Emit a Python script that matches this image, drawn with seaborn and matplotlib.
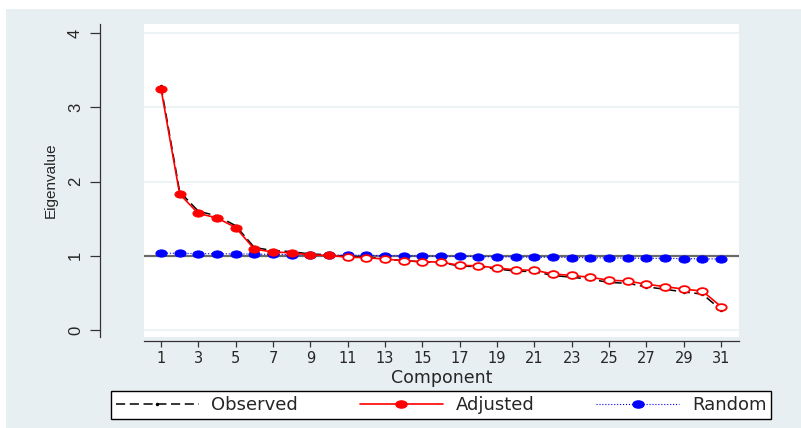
import matplotlib
matplotlib.use('Agg')
import numpy as np
import pandas as pd
import matplotlib.pyplot as plt
from matplotlib.path import Path
from matplotlib.transforms import Affine2D
from matplotlib.lines import Line2D
from matplotlib.patches import Rectangle
import seaborn as sns

# 数据
component = list(range(1, 32))
observed = [3.285, 1.863, 1.600, 1.537, 1.405, 1.112, 1.069, 1.056, 1.023, 1.015,
            0.988, 0.980, 0.957, 0.934, 0.917, 0.909, 0.861, 0.854, 0.821, 0.794,
            0.786, 0.734, 0.711, 0.684, 0.641, 0.629, 0.581, 0.549, 0.512, 0.484, 0.272]
adjusted = [3.25, 1.83, 1.57, 1.51, 1.38, 1.09, 1.05, 1.04, 1.01, 1.005,
            0.98, 0.975, 0.955, 0.935, 0.92, 0.915, 0.87, 0.865, 0.835, 0.81,
            0.805, 0.755, 0.735, 0.71, 0.67, 0.66, 0.615, 0.585, 0.55, 0.525, 0.315]
random_ev = [1.035, 1.033, 1.030, 1.027, 1.025, 1.022, 1.019, 1.016, 1.013, 1.010,
             1.008, 1.005, 1.002, 0.999, 0.997, 0.994, 0.991, 0.989, 0.986, 0.984,
             0.981, 0.979, 0.976, 0.974, 0.971, 0.969, 0.966, 0.964, 0.962, 0.959, 0.957]
xticks = list(range(1, 32, 2))
yticks = [0, 1, 2, 3, 4]
labels = ['Observed', 'Adjusted', 'Random']

df = pd.DataFrame({'component': component, 'observed': observed,
                   'adjusted': adjusted, 'random': random_ev})
kept = df[df['adjusted'] > 1]
dropped = df[df['adjusted'] <= 1]

sns.set_style('white')
plt.rcParams['font.family'] = ['DejaVu Sans']

BG = '#e8eff2'
W, H = 801, 428

fig = plt.figure(figsize=(W / 100, H / 100), dpi=100, facecolor='white')
# 外面的灰蓝色背景（左边和上边留白）
fig.add_artist(Rectangle((6 / W, 0), 1 - 6 / W, 1 - 9 / H, transform=fig.transFigure,
                         facecolor=BG, edgecolor='none', zorder=-10))

ax = fig.add_axes([144 / W, 1 - 337 / H, 595 / W, 313 / H])
ax.set_facecolor('white')

# 椭圆点（原图被横向拉伸）
circ = Path.unit_circle()
ell = Path(Affine2D().scale(1.55, 1).transform(circ.vertices), circ.codes)

ax.axhline(1, color='#6a6a6a', lw=1.6, zorder=1.5)

sns.lineplot(data=df, x='component', y='observed', ax=ax, color='black', lw=1.1,
             linestyle=(0, (6, 3)), marker='o', markersize=2.5, markeredgewidth=0,
             zorder=2, legend=False)
sns.lineplot(data=df, x='component', y='random', ax=ax, color='blue', lw=0.8,
             linestyle=':', marker=ell, markersize=8, markerfacecolor='blue',
             markeredgecolor='blue', zorder=3, legend=False)
sns.lineplot(data=df, x='component', y='adjusted', ax=ax, color='red', lw=1.2,
             zorder=4, legend=False)
sns.lineplot(data=kept, x='component', y='adjusted', ax=ax, color='red', linestyle='none',
             marker=ell, markersize=8, markerfacecolor='red', markeredgecolor='red',
             zorder=5, legend=False)
sns.lineplot(data=dropped, x='component', y='adjusted', ax=ax, color='red', linestyle='none',
             marker=ell, markersize=7.5, markerfacecolor='white', markeredgecolor='red',
             markeredgewidth=1.3, zorder=5, legend=False)

ax.set_xlim(0.09, 31.96)
ax.set_ylim(-0.094, 4.121)
ax.set_xticks(xticks)
ax.set_yticks(yticks)

ax.grid(axis='y', color='#eaf2f3', lw=1.2)
ax.grid(axis='x', visible=False)
ax.set_axisbelow(True)
ax.yaxis.get_gridlines()[-1].set_visible(False)

# 坐标轴（Stata风格，轴线离开绘图区）
ax.spines['top'].set_visible(False)
ax.spines['right'].set_visible(False)
ax.spines['left'].set_position(('outward', 31.7))
ax.spines['bottom'].set_position(('outward', 2.9))
for s in ['left', 'bottom']:
    ax.spines[s].set_color('#333333')
    ax.spines[s].set_linewidth(0.9)

ax.tick_params(axis='y', length=7.2, width=0.9, color='#333333', pad=5,
               labelsize=12, labelrotation=90, left=True)
ax.tick_params(axis='x', length=4.3, width=0.9, color='#333333', pad=3,
               labelsize=10.5, bottom=True)
for lbl in ax.get_yticklabels():
    lbl.set_fontfamily('Liberation Sans')
    lbl.set_va('center')

ax.set_ylabel('Eigenvalue', fontsize=11, family='Liberation Sans')
ax.yaxis.set_label_coords((51 - 144) / 595, 0.5)
ax.yaxis.label.set_va('center')
ax.set_xlabel('Component', fontsize=12.5)
ax.xaxis.set_label_coords(0.5, (337 - 383) / 313)
ax.xaxis.label.set_va('baseline')

handles = [
    Line2D([], [], color='black', lw=1.1, ls=(0, (6, 3)), marker='o', markersize=2.5,
           markeredgewidth=0),
    Line2D([], [], color='red', lw=1.2, marker=ell, markersize=8),
    Line2D([], [], color='blue', lw=0.8, ls=':', marker=ell, markersize=8),
]
leg = fig.legend(handles, labels, loc='center',
                 bbox_to_anchor=(111 / W, 10 / H, 660 / W, 26 / H), mode='expand',
                 ncol=3, frameon=True, fancybox=False, edgecolor='black',
                 facecolor='white', framealpha=1, fontsize=13, handlelength=4.6,
                 handletextpad=0.7, borderpad=0.25, borderaxespad=0, numpoints=1)
leg.get_frame().set_linewidth(1.0)

plt.savefig('out.png', dpi=100, facecolor='white')
